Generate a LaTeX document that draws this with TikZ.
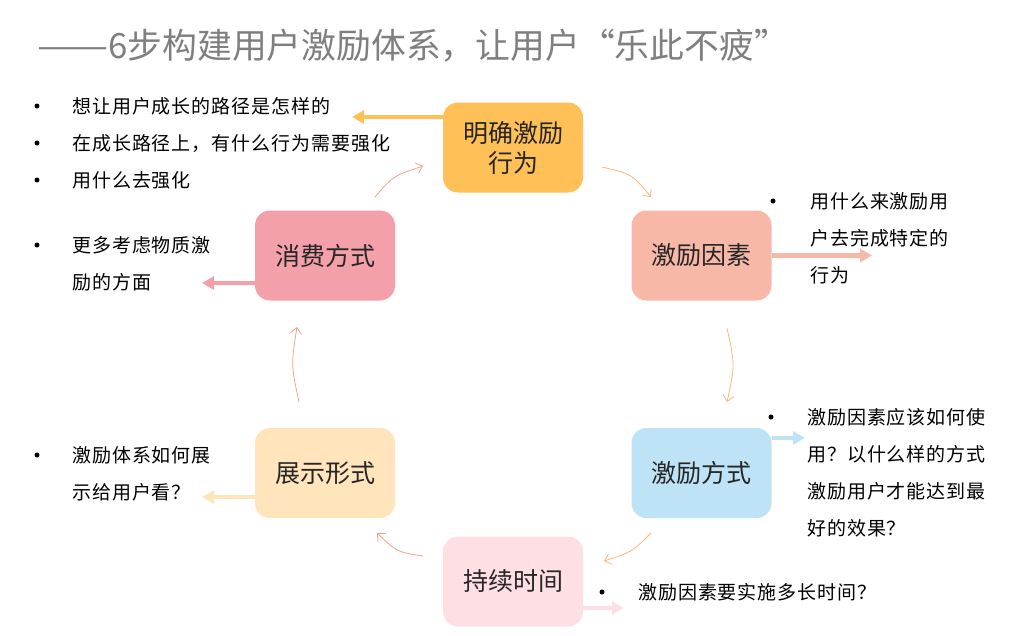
\documentclass[tikz,border=0pt]{standalone}
\usepackage{fontspec}
\setmainfont{Noto Sans CJK SC}
\newfontfamily\descfont{Noto Sans CJK SC}[LetterSpace=5]
\usetikzlibrary{arrows.meta}
\definecolor{titlegray}{HTML}{7F7F7F}
\definecolor{txtdark}{HTML}{262626}
\definecolor{cA}{HTML}{FFC058}
\definecolor{cB}{HTML}{F8B8A8}
\definecolor{cC}{HTML}{BEE3F6}
\definecolor{cD}{HTML}{FDDFE4}
\definecolor{cE}{HTML}{FFE4BC}
\definecolor{cF}{HTML}{F4A0AA}
\definecolor{arrSalmon}{HTML}{F5A28C}
\definecolor{arrOrange}{HTML}{F9B87A}
\begin{document}
\begin{tikzpicture}[x=1pt,y=-1pt,
  box/.style={rounded corners=15pt, minimum width=140pt, minimum height=90pt, inner sep=0pt, align=center, font=\fontsize{25}{30}\selectfont, text=txtdark},
  desc/.style={anchor=base west, inner sep=0pt, font=\descfont\fontsize{19}{23}\selectfont, text=black},
  dot/.style={circle, fill=black, inner sep=0pt, minimum size=5pt},
  fat/.style={line width=4.5pt, -{Triangle[length=12pt,width=13pt]}},
  thinarr/.style={line width=0.8pt, -{Straight Barb[length=6pt,width=11pt]}},
]
\useasboundingbox (0,0) rectangle (1019,635);

% title
\node[anchor=west, inner sep=0pt, font=\fontsize{34.8}{40}\selectfont, text=titlegray] (title) at (37,46) {\scalebox{1.22}[1]{——}6步构建用户激励体系，让用户“乐此不疲”};

% boxes
\node[box, fill=cA] (b1) at (513,147.5) {明确激励\\行为};
\node[box, fill=cB] (b2) at (701.5,255.5) {激励因素};
\node[box, fill=cC] (b3) at (701.5,473) {激励方式};
\node[box, fill=cD] (b4) at (513,581.5) {持续时间};
\node[box, fill=cE] (b5) at (325,473) {展示形式};
\node[box, fill=cF] (b6) at (325,255.5) {消费方式};

% fat arrow end points
\coordinate (e1) at (352,117);
\coordinate (e2) at (872,255.5);
\coordinate (e3) at (805,438);
\coordinate (e4) at (624,608);
\coordinate (e5) at (202,497);
\coordinate (e6) at (202,283);

\draw[fat, cA] ([yshift=30.5pt]b1.west) -- (e1);
\draw[fat, cB] (b2.east) -- (e2);
\draw[fat, cC] ([yshift=35pt]b3.east) -- (e3);
\draw[fat, cD] ([yshift=-26.5pt]b4.east) -- (e4);
\draw[fat, cE] ([yshift=-24pt]b5.west) -- (e5);
\draw[fat, cF] ([yshift=-27.5pt]b6.west) -- (e6);

% thin cycle arrows
\coordinate (a1s) at (375,197); \coordinate (a1e) at (423,166);
\coordinate (a2s) at (602,167); \coordinate (a2e) at (651,197);
\coordinate (a3s) at (727,328); \coordinate (a3e) at (727,402);
\coordinate (a4s) at (651,533); \coordinate (a4e) at (604,561);
\coordinate (a5s) at (423,556); \coordinate (a5e) at (377,533);
\coordinate (a6s) at (299,402); \coordinate (a6e) at (297,327);

\draw[thinarr, arrSalmon] (a1s) .. controls (393,176) .. (a1e);
\draw[thinarr, arrOrange] (a2s) .. controls (632,174) .. (a2e);
\draw[thinarr, arrOrange] (a3s) .. controls (735,365) .. (a3e);
\draw[thinarr, arrOrange] (a4s) .. controls (632,552) .. (a4e);
\draw[thinarr, arrSalmon] (a5s) .. controls (397,552) .. (a5e);
\draw[thinarr, arrSalmon] (a6s) .. controls (291,365) .. (a6e);

% left group 1
\node[dot] (p1) at (37,106) {};
\node[dot] (p2) at (37,143) {};
\node[dot] (p3) at (37,180) {};
\node[desc] (t1a) at (72,113) {想让用户成长的路径是怎样的};
\node[desc] (t1b) at (72,150) {在成长路径上，有什么行为需要强化};
\node[desc] (t1c) at (72,187) {用什么去强化};

% left group 2
\node[dot] (p4) at (37,245) {};
\node[desc] (t2a) at (72,252) {更多考虑物质激};
\node[desc] (t2b) at (72,289) {励的方面};

% left group 3
\node[dot] (p5) at (37,455) {};
\node[desc] (t3a) at (72,462) {激励体系如何展};
\node[desc] (t3b) at (72,499) {示给用户看？};

% right group 1
\node[dot] (p6) at (773,201) {};
\node[desc] (t4a) at (810,208) {用什么来激励用};
\node[desc] (t4b) at (810,245) {户去完成特定的};
\node[desc] (t4c) at (810,282) {行为};

% right group 2
\node[dot] (p7) at (771,417) {};
\node[desc] (t5a) at (807,424) {激励因素应该如何使};
\node[desc] (t5b) at (807,461) {用？以什么样的方式};
\node[desc] (t5c) at (807,498) {激励用户才能达到最};
\node[desc] (t5d) at (807,535) {好的效果？};

% bottom
\node[dot] (p8) at (602,592) {};
\node[desc] (t6a) at (638,599) {激励因素要实施多长时间？};
\end{tikzpicture}
\end{document}
